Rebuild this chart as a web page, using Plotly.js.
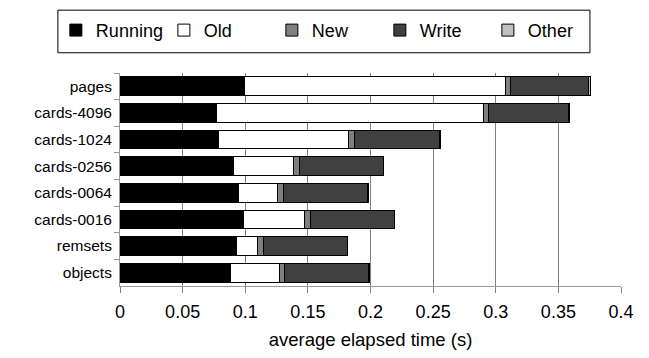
<!DOCTYPE html>
<html>
<head>
<meta charset="utf-8">
<script src="https://cdn.plot.ly/plotly-3.0.1.min.js"></script>
<style>html,body{margin:0;padding:0;background:#fff;}#chart{width:649px;height:358px;}</style>
</head>
<body>
<div id="chart"></div>
<script>
var categories = ["pages","cards-4096","cards-1024","cards-0256","cards-0064","cards-0016","remsets","objects"];
var running = [0.099, 0.077, 0.0785, 0.091, 0.0945, 0.0985, 0.0932, 0.0886];
var oldGen  = [0.209, 0.213, 0.1043, 0.0474, 0.0314, 0.0487, 0.0168, 0.0386];
var newGen  = [0.004, 0.004, 0.0048, 0.0048, 0.0045, 0.0045, 0.0045, 0.0045];
var writeT  = [0.062, 0.064, 0.0673, 0.067, 0.0671, 0.0671, 0.067, 0.0666];
var other   = [0.002, 0.001, 0.001, 0.0005, 0.0005, 0.0005, 0.0005, 0.001];
var seriesNames = ["Running","Old","New","Write","Other"];
var xTickVals = [0,0.05,0.1,0.15,0.2,0.25,0.3,0.35,0.4];
var xTickText = ["0","0.05","0.1","0.15","0.2","0.25","0.3","0.35","0.4"];

var seriesData = [running, oldGen, newGen, writeT, other];
var colors = ["#000000","#ffffff","#808080","#404040","#c0c0c0"];
var traces = seriesData.map(function(vals, i){
  return {
    type: "bar", orientation: "h",
    name: seriesNames[i],
    y: categories, x: vals,
    marker: {color: colors[i], line: {color: "#000000", width: 1}},
    hoverinfo: "skip"
  };
});

var layout = {
  width: 649, height: 358,
  margin: {l: 120, r: 28, t: 67, b: 72},
  paper_bgcolor: "#ffffff", plot_bgcolor: "#ffffff",
  font: {family: "Liberation Sans, Arial, sans-serif", color: "#000000", size: 15},
  barmode: "stack",
  bargap: 0.3,
  showlegend: true,
  legend: {
    orientation: "h",
    x: -0.128, xanchor: "left",
    y: 1.2, yanchor: "middle",
    font: {size: 18},
    entrywidth: 63, entrywidthmode: "pixels",
    itemwidth: 30,
    bgcolor: "rgba(0,0,0,0)",
    borderwidth: 0,
    traceorder: "normal"
  },
  shapes: [{
    type: "rect", xref: "paper", yref: "paper",
    x0: -0.124, x1: 0.938, y0: 1.095, y1: 1.295,
    line: {color: "#000000", width: 1}, fillcolor: "rgba(0,0,0,0)"
  }],
  xaxis: {
    range: [0, 0.4],
    tickvals: xTickVals, ticktext: xTickText,
    showgrid: true, gridcolor: "#808080", gridwidth: 1,
    zeroline: false,
    showline: true, linecolor: "#999999", linewidth: 1,
    ticks: "outside", ticklen: 6, tickcolor: "#808080",
    tickfont: {size: 18},
    ticklabelstandoff: 3,
    title: {text: "average elapsed time (s)", font: {size: 18.5}, standoff: 12},
    fixedrange: true
  },
  yaxis: {
    type: "category",
    categoryorder: "array", categoryarray: categories,
    autorange: "reversed",
    showgrid: false, zeroline: false,
    showline: true, linecolor: "#999999", linewidth: 1,
    ticks: "outside", ticklen: 5, tickcolor: "#999999",
    tickson: "boundaries",
    tickfont: {size: 15.5},
    ticklabelstandoff: 4,
    fixedrange: true
  }
};

Plotly.newPlot("chart", traces, layout, {displayModeBar: false, staticPlot: true});
</script>
</body>
</html>
